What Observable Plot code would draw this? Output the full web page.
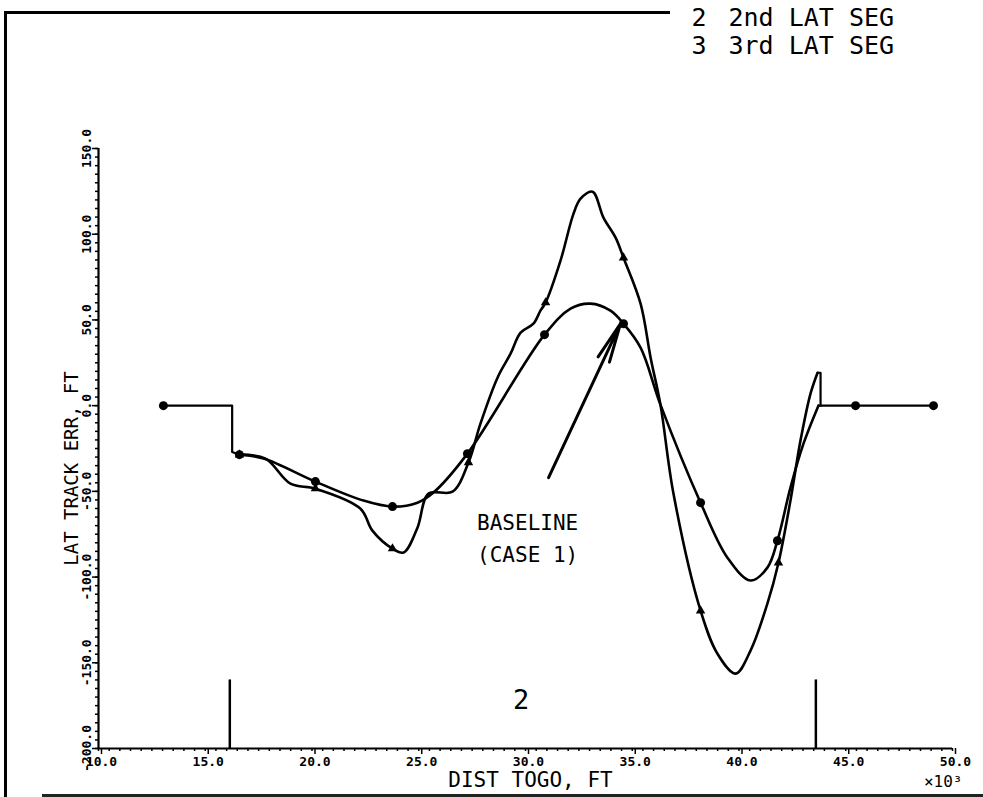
<!DOCTYPE html>
<html>
<head>
<meta charset="utf-8">
<script src="https://cdn.jsdelivr.net/npm/d3@7"></script>
<script src="https://cdn.jsdelivr.net/npm/@observablehq/plot@0.6"></script>
<style>
  html, body { margin: 0; padding: 0; background: #fff; }
  #wrap { position: relative; width: 983px; height: 797px; overflow: hidden; background: #fff; }
  #wrap .bl { position: absolute; left: 4px; top: 11px; width: 3px; height: 790px; background: #000; }
  #wrap .bt { position: absolute; left: 4px; top: 11px; width: 666px; height: 3px; background: #000; }
  #wrap .bb { position: absolute; left: 42px; top: 794px; width: 941px; height: 3px; background: #222; }
  #chart { position: absolute; left: 0; top: 0; }
</style>
</head>
<body>
<div id="wrap">
  <div id="chart"></div>
  <div class="bl"></div>
  <div class="bt"></div>
  <div class="bb"></div>
</div>
<script>
// ---- axis ticks ----
const xTicks = [10, 15, 20, 25, 30, 35, 40, 45, 50];
const yTicks = [-200, -150, -100, -50, 0, 50, 100, 150];
const xMinor = d3.range(10, 50.001, 0.5);
const yMinor = d3.range(-200, 150.001, 5);

// ---- baseline (case 1), smooth part ----
const baseDist = [16.60, 17.73, 20.16, 22.41, 23.77, 24.94, 25.69, 27.28, 30.89, 32.11, 33.04, 33.98, 34.59, 35.39, 36.32, 38.20, 39.46, 40.54, 41.33, 41.80, 42.41, 43.02, 43.72];
const baseErr  = [-28.6, -30.8, -44.3, -55.4, -58.9, -56.6, -50.7, -28.0, 41.4, 56.6, 59.5, 55.4, 47.8, 33.8, 0.6, -56.6, -88.7, -102.0, -94.5, -78.8, -47.8, -22.2, 0];

// ---- case 2 curve (triangles), smooth part ----
const case2Dist = [16.60, 17.82, 18.99, 20.16, 22.27, 22.83, 23.77, 24.29, 24.94, 25.46, 26.58, 27.33, 27.89, 28.69, 29.30, 29.77, 30.37, 30.70, 30.94, 31.64, 32.25, 32.58, 33.14, 33.65, 34.22, 34.59, 35.39, 35.86, 36.32, 36.93, 38.20, 38.99, 39.84, 40.54, 41.33, 41.85, 42.41, 42.88, 43.35, 43.68];
const case2Err  = [-28.6, -30.9, -45.5, -48.4, -60.1, -72.9, -83.4, -85.7, -71.2, -51.3, -50.2, -33.2, -10.5, 16.3, 30.3, 42.6, 47.8, 55.4, 60.1, 84.6, 112.0, 120.7, 124.8, 109.7, 98.0, 86.3, 59.5, 28.0, 0.6, -51.3, -119.6, -144.7, -156.3, -142.9, -115.5, -91.6, -55.4, -20.4, 7.0, 19.2];

// ---- straight (segment-switch) pieces ----
const stepInDist  = [13.04, 16.26, 16.26, 16.60];
const stepInErr   = [0, 0, -27.0, -28.6];
const stepOutDist = [43.72, 49.11];
const stepOutErr  = [0, 0];
const case2TailDist = [43.68, 43.82, 43.82];
const case2TailErr  = [19.2, 19.2, 0];

// ---- plotted symbols ----
const baseMarkDist = [13.04, 16.60, 20.16, 23.77, 27.28, 30.89, 34.59, 38.20, 41.80, 45.46, 49.11];
const baseMarkErr  = [0, -28.6, -44.3, -58.9, -28.0, 41.4, 47.8, -56.6, -78.8, 0, 0];
const case2MarkDist = [16.60, 20.16, 23.77, 27.33, 30.94, 34.59, 38.20, 41.85];
const case2MarkErr  = [-28.6, -48.4, -83.4, -33.2, 60.1, 86.3, -119.6, -91.6];

// ---- lateral segment boundaries & labels ----
const segBounds = [16.15, 43.6];
const segTop = -160, segBottom = -200;
const segLabel = [{x: 29.8, y: -172, text: "2"}];
const legendNums = ["2", "3"];
const legendTexts = ["2nd LAT SEG", "3rd LAT SEG"];

// ---- annotation ----
const noteLines = [{x: 30.1, y: -68.8, text: "BASELINE"}, {x: 30.1, y: -87.5, text: "(CASE 1)"}];
const arrowData = [{x1: 31.08, y1: -42, x2: 34.45, y2: 47.8}];

const pts = (xs, ys) => xs.map((x, i) => ({x, y: ys[i]}));
const mono = "'DejaVu Sans Mono', monospace";

const chart = Plot.plot({
  width: 983,
  height: 797,
  marginLeft: 98,
  marginRight: 31,
  marginTop: 148,
  marginBottom: 49,
  x: {domain: [10, 50], label: null},
  y: {domain: [-200, 150], label: null},
  style: {fontFamily: mono, color: "#000", background: "transparent", overflow: "visible"},
  marks: [
    // axes
    Plot.axisX(xMinor, {tickSize: 3, tickFormat: () => "", strokeWidth: 1.5}),
    Plot.axisX(xTicks, {tickSize: 6, tickPadding: 2, tickFormat: d => d.toFixed(1), fontSize: 13, fontWeight: "bold", dx: 3, strokeWidth: 1.5}),
    Plot.axisY(yMinor, {tickSize: 3, tickFormat: () => "", strokeWidth: 1.5}),
    Plot.axisY(yTicks, {tickSize: 6, tickPadding: 2, tickRotate: -90, tickFormat: d => d.toFixed(1), fontSize: 13, fontWeight: "bold", strokeWidth: 1.5}),
    Plot.ruleX([10], {y1: -200, y2: 150, strokeWidth: 2.2}),
    Plot.ruleY([-200], {x1: 10, x2: 50, strokeWidth: 2.2}),
    // segment boundaries
    Plot.ruleX(segBounds, {y1: segTop, y2: segBottom, strokeWidth: 2.5}),
    Plot.text(segLabel, {x: "x", y: "y", text: "text", fontSize: 27, fontFamily: mono}),
    // straight pieces
    Plot.line(pts(stepInDist, stepInErr), {x: "x", y: "y", strokeWidth: 2.2}),
    Plot.line(pts(stepOutDist, stepOutErr), {x: "x", y: "y", strokeWidth: 2.2}),
    Plot.line(pts(case2TailDist, case2TailErr), {x: "x", y: "y", strokeWidth: 2.2}),
    // curves
    Plot.line(pts(baseDist, baseErr), {x: "x", y: "y", curve: "catmull-rom", strokeWidth: 2.6}),
    Plot.line(pts(case2Dist, case2Err), {x: "x", y: "y", curve: "catmull-rom", strokeWidth: 2.6}),
    // symbols
    Plot.dot(pts(baseMarkDist, baseMarkErr), {x: "x", y: "y", r: 4.5, fill: "#000", symbol: "circle"}),
    Plot.dot(pts(case2MarkDist, case2MarkErr), {x: "x", y: "y", r: 3.5, fill: "#000", symbol: "triangle"}),
    // annotation
    Plot.arrow(arrowData, {x1: "x1", y1: "y1", x2: "x2", y2: "y2", headLength: 20, headAngle: 18, strokeWidth: 3}),
    Plot.text(noteLines, {x: "x", y: "y", text: "text", fontSize: 21, fontFamily: mono}),
    // axis titles
    Plot.text(["LAT TRACK ERR, FT"], {frameAnchor: "left", dx: -27, dy: 20, rotate: -90, textAnchor: "middle", fontSize: 19, fontFamily: mono}),
    Plot.text(["DIST TOGO, FT"], {frameAnchor: "bottom", dx: 5, dy: 38, fontSize: 21, fontFamily: mono}),
    Plot.text(["×10³"], {frameAnchor: "bottom-right", dx: 10, dy: 38, fontSize: 16, fontFamily: mono}),
    // legend (top right)
    Plot.text([legendNums[0]], {frameAnchor: "top-left", dx: 593, dy: -140, fontSize: 25, fontFamily: mono}),
    Plot.text([legendTexts[0]], {frameAnchor: "top-left", dx: 630, dy: -140, fontSize: 25, fontFamily: mono}),
    Plot.text([legendNums[1]], {frameAnchor: "top-left", dx: 593, dy: -112, fontSize: 25, fontFamily: mono}),
    Plot.text([legendTexts[1]], {frameAnchor: "top-left", dx: 630, dy: -112, fontSize: 25, fontFamily: mono})
  ]
});
document.getElementById("chart").appendChild(chart);
</script>
</body>
</html>
